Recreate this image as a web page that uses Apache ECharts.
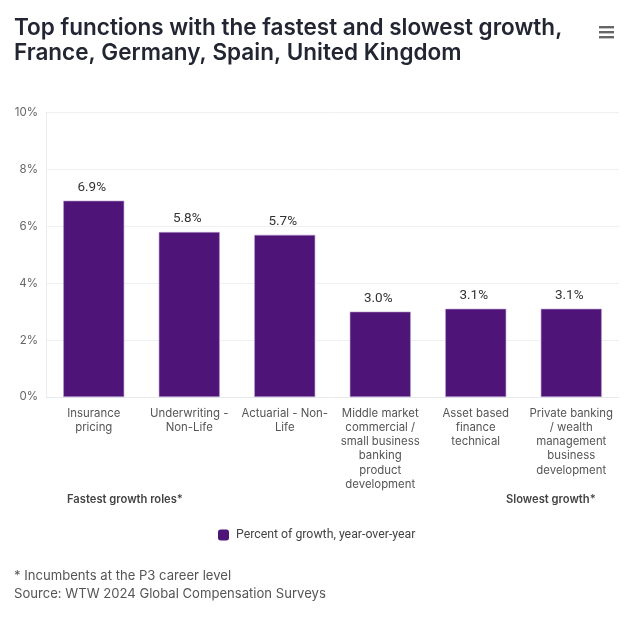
<!DOCTYPE html>
<html>
<head>
<meta charset="utf-8">
<style>
  html, body { margin: 0; padding: 0; background: #fff; }
  #chart { width: 640px; height: 618px; }
</style>
<script src="https://cdn.jsdelivr.net/npm/echarts@6/dist/echarts.min.js"></script>
</head>
<body>
<div id="chart"></div>
<script>
const categories = [
  'Insurance\npricing',
  'Underwriting -\nNon-Life',
  'Actuarial - Non-\nLife',
  'Middle market\ncommercial /\nsmall business\nbanking\nproduct\ndevelopment',
  'Asset based\nfinance\ntechnical',
  'Private banking\n/ wealth\nmanagement\nbusiness\ndevelopment',
];
const growthValues = [6.9, 5.8, 5.7, 3.0, 3.1, 3.1];
const seriesName = 'Percent of growth, year-over-year';
const titleLines = 'Top functions with the fastest and slowest growth,\nFrance, Germany, Spain, United Kingdom';
const footnotes = '* Incumbents at the P3 career level\nSource: WTW 2024 Global Compensation Surveys';

const FONT = 'Inter, sans-serif';
const PURPLE = '#4f1478';

const chart = echarts.init(document.getElementById('chart'), null, { renderer: 'canvas' });

// hamburger menu, three bars
const menuBars = [27, 32, 37].map((y) => ({
  type: 'rect',
  shape: { x: 599, y: y - 1, width: 15, height: 2.4 },
  style: { fill: '#666666' },
}));

chart.setOption({
  animation: false,
  backgroundColor: '#ffffff',
  textStyle: { fontFamily: FONT },
  title: {
    text: titleLines,
    left: 14,
    top: 16,
    padding: 0,
    textStyle: { fontFamily: FONT, fontSize: 22.5, fontWeight: 600, color: '#222632', lineHeight: 25 },
  },
  legend: {
    top: 524,
    left: 213,
    itemWidth: 11,
    itemHeight: 11,
    itemGap: 7,
    icon: 'roundRect',
    itemStyle: { borderWidth: 0 },
    textStyle: { fontFamily: 'Roboto, sans-serif', fontSize: 12.3, color: '#444444', padding: [0, 0, 0, 2] },
    data: [seriesName],
  },
  grid: { left: 46, right: 21, top: 112.5, bottom: 221 },
  xAxis: {
    type: 'category',
    data: categories,
    axisTick: { show: false },
    axisLine: { lineStyle: { color: '#e6eaee', width: 1 } },
    splitLine: { show: false },
    axisLabel: {
      interval: 0,
      margin: 9,
      fontFamily: FONT,
      fontSize: 11.4,
      lineHeight: 14.3,
      color: '#555555',
    },
  },
  yAxis: {
    type: 'value',
    min: 0,
    max: 10,
    interval: 2,
    axisLine: { show: true, lineStyle: { color: '#e9edf0', width: 1 } },
    axisTick: { show: false },
    splitLine: { lineStyle: { color: '#eef1f4', width: 1 } },
    axisLabel: {
      margin: 8,
      fontFamily: FONT,
      fontSize: 11.5,
      color: '#666666',
      formatter: '{value}%',
    },
  },
  series: [
    {
      name: seriesName,
      type: 'bar',
      data: growthValues,
      barWidth: 61,
      itemStyle: { color: PURPLE, borderColor: '#b79ccb', borderWidth: 0.6 },
      label: {
        show: true,
        position: 'top',
        distance: 6,
        fontFamily: 'Roboto, sans-serif',
        fontSize: 13.5,
        color: '#333333',
        offset: [-2, 0],
        formatter: (p) => p.value.toFixed(1) + '%',
      },
    },
  ],
  graphic: [
    ...menuBars,
    {
      type: 'text',
      left: 67,
      top: 494,
      style: { text: 'Fastest growth roles*', fontFamily: FONT, fontSize: 11.2, fontWeight: 600, fill: '#444444' },
    },
    {
      type: 'text',
      left: 506,
      top: 494,
      style: { text: 'Slowest growth*', fontFamily: FONT, fontSize: 11.2, fontWeight: 600, fill: '#444444' },
    },
    {
      type: 'text',
      left: 14,
      top: 567,
      style: { text: footnotes, fontFamily: FONT, fontSize: 13.1, lineHeight: 18, fill: '#555555' },
    },
  ],
});
</script>
</body>
</html>
